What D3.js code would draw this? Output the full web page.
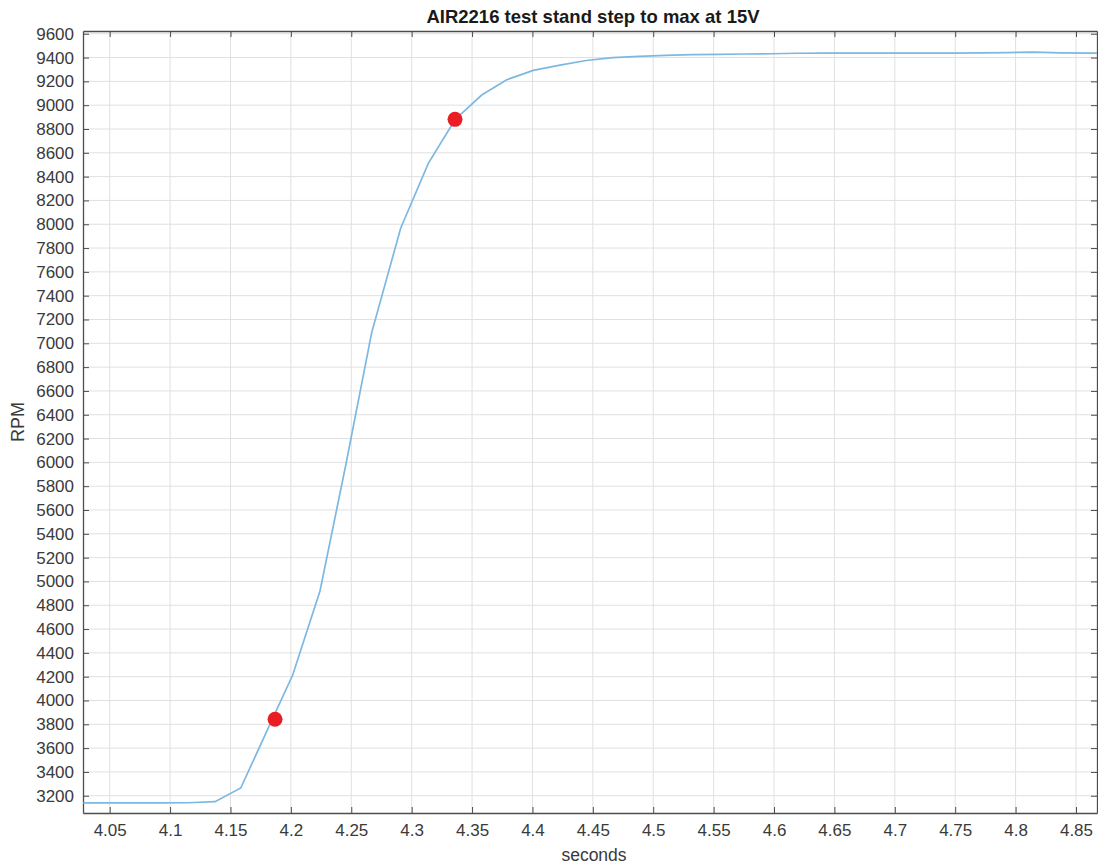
<!DOCTYPE html>
<html><head><meta charset="utf-8">
<script src="https://cdn.jsdelivr.net/npm/d3@7"></script>
<style>
body{margin:0;background:#fff;}
svg{display:block;font-family:"Liberation Sans",Arial,sans-serif;}
</style></head>
<body>
<svg id="c" width="1098" height="865"></svg>
<script>
const timeSec = [4.0282,4.0500,4.0718,4.0936,4.1154,4.1372,4.1585,4.1800,4.2015,4.2241,4.2455,4.2669,4.2909,4.3138,4.3360,4.3580,4.3787,4.4007,4.4228,4.4446,4.4664,4.4880,4.5100,4.5320,4.5540,4.5750,4.5970,4.6190,4.6410,4.6630,4.6840,4.7060,4.7280,4.7500,4.7720,4.7940,4.8150,4.8370,4.8590,4.8810];
const rpm = [3140,3140,3140,3140,3141,3150,3265,3740,4214,4920,5980,7090,7966,8511,8880,9085,9214,9292,9337,9375,9399,9410,9418,9424,9427,9430,9432,9436,9438,9438,9438,9437,9438,9438,9439,9442,9445,9440,9437,9436];
const markT = [4.1869,4.3359];
const markV = [3842,8881];
const xTicks = [4.05,4.1,4.15,4.2,4.25,4.3,4.35,4.4,4.45,4.5,4.55,4.6,4.65,4.7,4.75,4.8,4.85];
const yTicks = d3.range(3200,9601,200);
const title = "AIR2216 test stand step to max at 15V";

const L=83, T=31, R=1097, B=813;
const svg=d3.select("#c");
const x=d3.scaleLinear().domain([4.0279,4.8674]).range([L,R]);
const y=d3.scaleLinear().domain([3055,9623]).range([B,T]);

const g=svg.append("g");
g.selectAll(".gx").data(xTicks).join("line").attr("x1",d=>x(d)).attr("x2",d=>x(d)).attr("y1",T).attr("y2",B).attr("stroke","#e0e0e0").attr("stroke-width",1);
g.selectAll(".gy").data(yTicks).join("line").attr("y1",d=>y(d)).attr("y2",d=>y(d)).attr("x1",L).attr("x2",R).attr("stroke","#e0e0e0").attr("stroke-width",1);

const axc="#4d4d4d";
const ax=d3.axisBottom(x).tickValues(xTicks).tickSizeInner(-6).tickSizeOuter(0).tickPadding(11).tickFormat(d=>d3.format("")(+d.toFixed(2)));
svg.append("g").attr("transform",`translate(0,${B})`).call(ax);
const axT=d3.axisTop(x).tickValues(xTicks).tickSizeInner(-6).tickSizeOuter(0).tickFormat("");
svg.append("g").attr("transform",`translate(0,${T})`).call(axT);
const ay=d3.axisLeft(y).tickValues(yTicks).tickSizeInner(-6).tickSizeOuter(0).tickPadding(9).tickFormat(d3.format("d"));
svg.append("g").attr("transform",`translate(${L},0)`).call(ay);
const ayR=d3.axisRight(y).tickValues(yTicks).tickSizeInner(-6).tickSizeOuter(0).tickFormat("");
svg.append("g").attr("transform",`translate(${R},0)`).call(ayR);
svg.selectAll(".domain").attr("stroke",axc).attr("stroke-width",1.3);
svg.selectAll(".tick line").attr("stroke",axc);
svg.selectAll(".tick text").attr("fill","#3a3a3a").attr("font-size","17px").attr("font-family","'Liberation Sans',Arial,sans-serif");

const line=d3.line().x((d,i)=>x(timeSec[i])).y((d,i)=>y(rpm[i]));
svg.append("clipPath").attr("id","cp").append("rect").attr("x",L).attr("y",T).attr("width",R-L).attr("height",B-T);
svg.append("path").datum(rpm).attr("d",line).attr("fill","none").attr("stroke","#7db8e2").attr("stroke-width",1.7).attr("clip-path","url(#cp)");

svg.selectAll(".mk").data(markT).join("circle").attr("cx",d=>x(d)).attr("cy",(d,i)=>y(markV[i])).attr("r",7.5).attr("fill","#ea1c24");

svg.append("text").attr("x",(L+R)/2+3).attr("y",23).attr("text-anchor","middle").attr("font-weight","bold").attr("font-size","18.5px").attr("fill","#1a1a1a").text(title);
svg.append("text").attr("x",(L+R)/2+4).attr("y",861).attr("text-anchor","middle").attr("font-size","17.5px").attr("fill","#3a3a3a").text("seconds");
svg.append("text").attr("transform",`translate(24,${(T+B)/2}) rotate(-90)`).attr("text-anchor","middle").attr("font-size","18px").attr("fill","#3a3a3a").text("RPM");
</script>
</body></html>
